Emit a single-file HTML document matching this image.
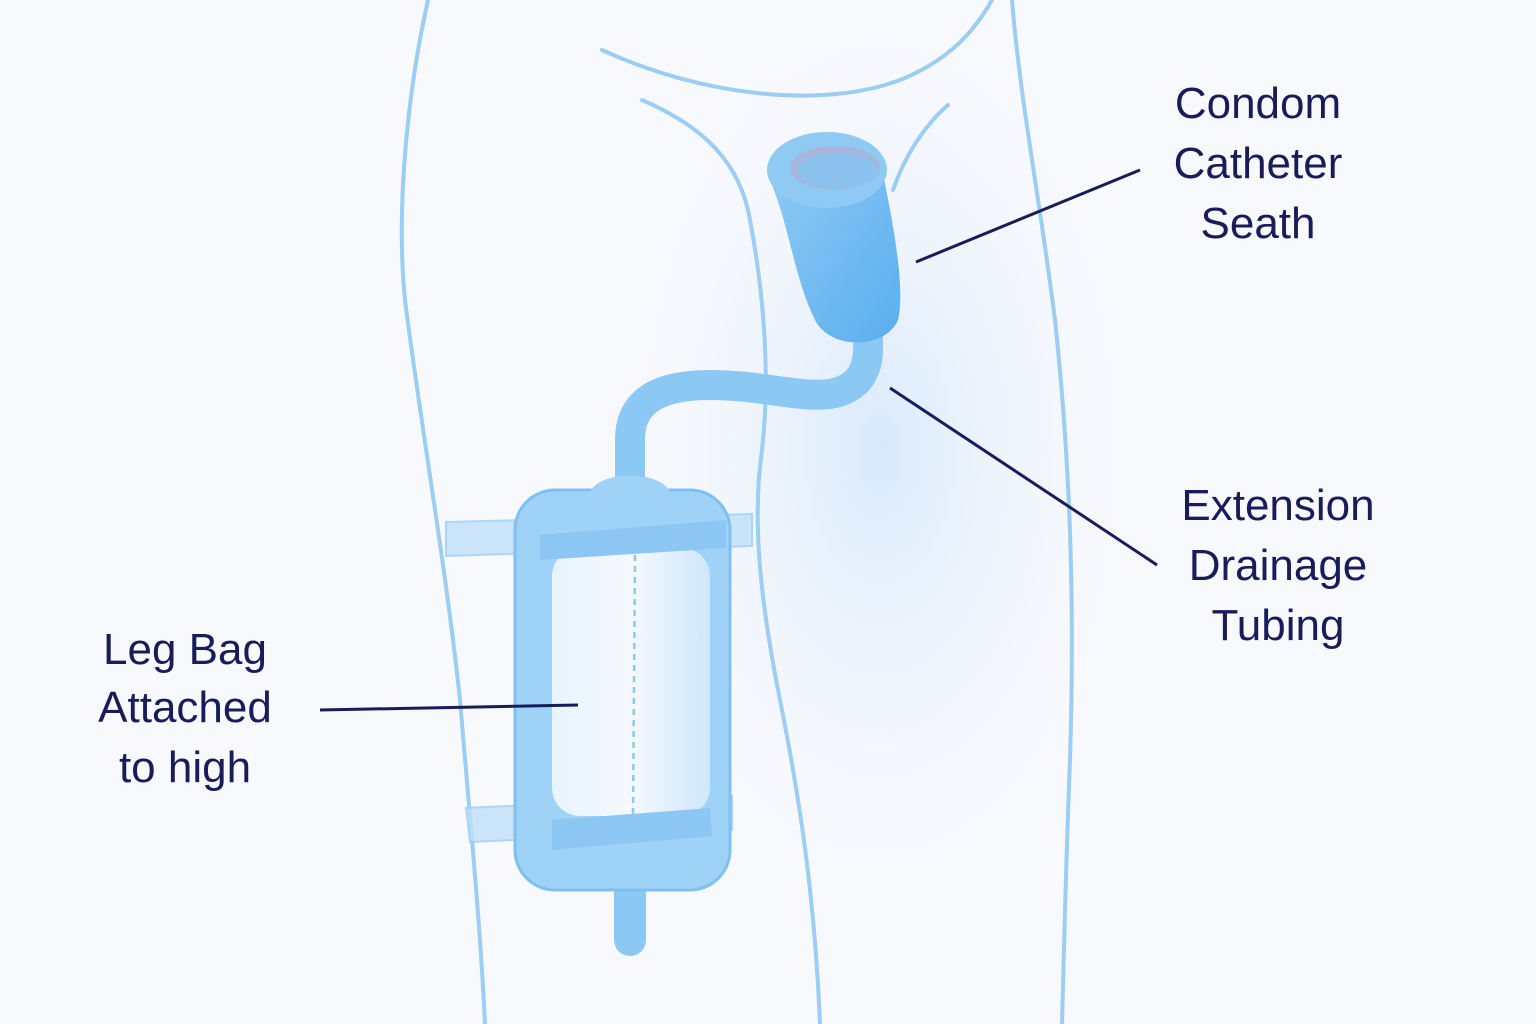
<!DOCTYPE html>
<html><head><meta charset="utf-8"><style>
html,body{margin:0;padding:0;background:#f8f9fd;}
svg{display:block}
text{font-family:"Liberation Sans",sans-serif;fill:#181d5a;font-size:44px;text-anchor:middle}
</style></head><body>
<svg width="1536" height="1024" viewBox="0 0 1536 1024">
<defs>
<radialGradient id="glow" cx="0.5" cy="0.5" r="0.5">
<stop offset="0" stop-color="#d8e9fb"/><stop offset="1" stop-color="#f8f9fd" stop-opacity="0"/></radialGradient>
<linearGradient id="bag" x1="0" y1="0" x2="1" y2="0">
<stop offset="0" stop-color="#e8f4fd"/><stop offset="0.5" stop-color="#f4f9fe"/><stop offset="1" stop-color="#cfe6fb"/></linearGradient>
<linearGradient id="cath" x1="0" y1="0" x2="1" y2="1">
<stop offset="0" stop-color="#8fcaf5"/><stop offset="1" stop-color="#5aaeee"/></linearGradient>
</defs>
<rect width="1536" height="1024" fill="#f8f9fd"/>
<ellipse cx="880" cy="450" rx="280" ry="480" fill="url(#glow)"/>
<g fill="none" stroke="#9ccdf3" stroke-width="4" stroke-linecap="round">
<path d="M428 0 C410 80 395 200 405 300 C420 420 445 560 460 700 C470 820 480 920 485 1024"/>
<path d="M1012 0 C1020 100 1040 200 1055 320 C1070 460 1075 600 1070 760 C1066 860 1064 950 1062 1024"/>
<path d="M602 50 C700 95 820 110 900 80 C950 60 975 30 992 0"/>
<path d="M642 100 C700 125 740 160 750 220 C765 300 770 380 762 450 C752 520 760 600 780 700 C800 800 815 900 820 1024"/>
<path d="M948 105 C925 125 905 155 893 190"/>
</g>
<g fill="#bfe0fa" stroke="#9ccdf3" stroke-width="2">
<path d="M446 522 L752 514 L752 546 L446 556 Z" opacity="0.8"/>
<path d="M466 808 L732 796 L732 830 L470 842 Z" opacity="0.8"/>
</g>
<path d="M630 490 L630 440 C630 400 660 385 710 385 C780 385 830 410 858 380 C870 365 868 350 868 335" fill="none" stroke="#8cc8f4" stroke-width="30" stroke-linecap="round"/>
<path d="M630 940 L630 880" stroke="#8cc8f4" stroke-width="32" stroke-linecap="round"/>
<rect x="515" y="490" width="215" height="400" rx="40" fill="#9fd2f7" stroke="#7fc0f1" stroke-width="3"/>
<path d="M590 492 C600 470 660 470 670 492 Z" fill="#9fd2f7"/>
<rect x="552" y="548" width="158" height="268" rx="28" fill="url(#bag)"/>
<line x1="635" y1="555" x2="633" y2="815" stroke="#8cc8f4" stroke-width="2.5" stroke-dasharray="6 5"/>
<path d="M540 535 L726 520 L726 548 L540 560 Z" fill="#8cc6f3"/>
<path d="M552 820 L710 808 L712 836 L552 850 Z" fill="#8cc6f3"/>
<path d="M772 185 C790 230 795 280 815 320 C830 350 885 350 898 320 C905 290 895 230 880 160 Z" fill="url(#cath)"/>
<ellipse cx="827" cy="170" rx="60" ry="38" fill="#8fcaf5"/>
<ellipse cx="835" cy="168" rx="45" ry="22" fill="#a8b6dc"/>
<ellipse cx="838" cy="171" rx="40" ry="18" fill="#8cc2ee"/>
<g stroke="#181d5a" stroke-width="3">
<line x1="916" y1="262" x2="1140" y2="170"/>
<line x1="890" y1="388" x2="1157" y2="565"/>
<line x1="320" y1="710" x2="578" y2="705"/>
</g>
<text x="1258" y="118">Condom</text>
<text x="1258" y="178">Catheter</text>
<text x="1258" y="238">Seath</text>
<text x="1278" y="520">Extension</text>
<text x="1278" y="580">Drainage</text>
<text x="1278" y="640">Tubing</text>
<text x="185" y="664">Leg Bag</text>
<text x="185" y="722">Attached</text>
<text x="185" y="782">to high</text>
</svg>
</body></html>
